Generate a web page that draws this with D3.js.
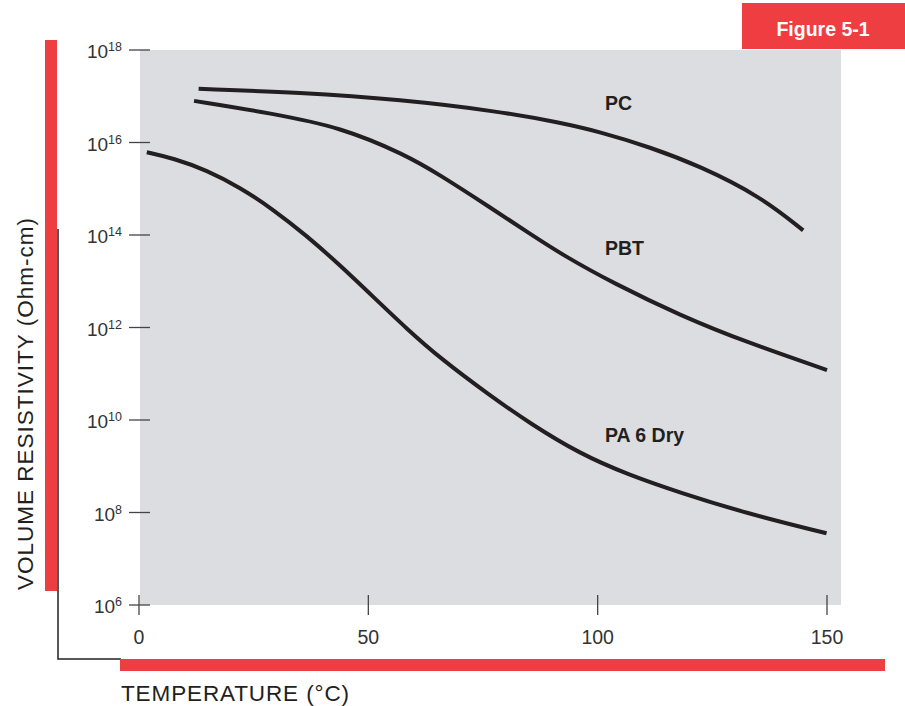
<!DOCTYPE html>
<html><head><meta charset="utf-8">
<script src="https://cdn.jsdelivr.net/npm/d3@7/dist/d3.min.js"></script>
<style>body{margin:0;background:#fff}svg{display:block;font-family:"Liberation Sans",Arial,sans-serif}</style>
</head><body><svg id="c" width="905" height="706"></svg>
<script>
// Temperature (°C) and log10 of volume resistivity (Ohm-cm)
const pcTemp  = [13, 35.1, 56.9, 78.7, 91.8, 100.5, 111.4, 122.3, 135.4, 144.8];
const pcLog   = [17.16, 17.08, 16.93, 16.67, 16.43, 16.23, 15.90, 15.49, 14.84, 14.10];
const pbtTemp = [12, 29, 44, 58, 65.6, 76.5, 85.2, 92.5, 103.4, 118, 132.5, 150];
const pbtLog  = [16.90, 16.63, 16.33, 15.74, 15.30, 14.60, 14.03, 13.56, 12.96, 12.26, 11.68, 11.08];
const paTemp  = [1.7, 7.5, 14.8, 22, 29.3, 36.6, 43.8, 51.1, 58.4, 65.6, 76.5, 85.2, 96.1, 106.6, 117.9, 132.5, 149.9];
const paLog   = [15.79, 15.66, 15.40, 15.03, 14.55, 13.98, 13.35, 12.66, 11.97, 11.34, 10.53, 9.93, 9.27, 8.82, 8.43, 7.98, 7.55];
const seriesNames = ["PC", "PBT", "PA 6 Dry"];
const xTicks = [0, 50, 100, 150];
const yTickExps = [6, 8, 10, 12, 14, 16, 18];

const svg = d3.select("#c");
const RED = "#ef3e42", INK = "#231f20";
const x = d3.scaleLinear().domain([0, 150]).range([139, 827]);
const y = d3.scaleLog().domain([1e6, 1e18]).range([605, 50]);

// Figure tag
svg.append("rect").attr("x", 742).attr("y", 3).attr("width", 163).attr("height", 46).attr("fill", RED);
svg.append("text").attr("x", 823).attr("y", 36).attr("text-anchor", "middle")
  .attr("fill", "#fff").attr("font-weight", "bold").attr("font-size", 19.5).text("Figure 5-1");

// plot background
svg.append("rect").attr("x", 140).attr("y", 50).attr("width", 701).attr("height", 555).attr("fill", "#dcdde1");

// decorative frame
svg.append("rect").attr("x", 45).attr("y", 40).attr("width", 12).attr("height", 551).attr("fill", RED);
svg.append("path").attr("d", "M58,229V659H121").attr("fill", "none").attr("stroke", INK).attr("stroke-width", 1.5);
svg.append("rect").attr("x", 120).attr("y", 659).attr("width", 765).attr("height", 12).attr("fill", RED);

// y axis ticks + labels
const yg = svg.append("g");
yTickExps.forEach(e => {
  const yy = y(Math.pow(10, e));
  yg.append("line").attr("x1", 129).attr("x2", 150).attr("y1", yy).attr("y2", yy)
    .attr("stroke", "#444").attr("stroke-width", 1.3);
  const t = yg.append("text").attr("x", 122).attr("y", yy + 8).attr("text-anchor", "end")
    .attr("fill", "#333").attr("font-size", 19);
  t.append("tspan").text("10");
  t.append("tspan").attr("font-size", 12.5).attr("dy", -7).text(e);
});

// x axis ticks + labels
xTicks.forEach(v => {
  const xx = x(v);
  svg.append("line").attr("x1", xx).attr("x2", xx).attr("y1", 595).attr("y2", 615)
    .attr("stroke", "#444").attr("stroke-width", 1.3);
  svg.append("text").attr("x", xx).attr("y", 644).attr("text-anchor", "middle")
    .attr("fill", "#333").attr("font-size", 19.5).text(v);
});

// axis titles
svg.append("text").attr("transform", "translate(33,404) rotate(-90)").attr("text-anchor", "middle")
  .attr("fill", INK).attr("font-size", 22.5).attr("textLength", 372).attr("lengthAdjust", "spacing")
  .text("VOLUME RESISTIVITY (Ohm-cm)");
svg.append("text").attr("x", 121).attr("y", 701).attr("fill", INK).attr("font-size", 22.5)
  .attr("textLength", 228).attr("lengthAdjust", "spacing").text("TEMPERATURE (°C)");

// curves
const line = d3.line().x(d => x(d[0])).y(d => y(Math.pow(10, d[1]))).curve(d3.curveBasis);
const series = [d3.zip(pcTemp, pcLog), d3.zip(pbtTemp, pbtLog), d3.zip(paTemp, paLog)];
series.forEach(s => {
  svg.append("path").attr("d", line(s)).attr("fill", "none").attr("stroke", INK).attr("stroke-width", 4);
});

// curve labels
const labelPos = [[605, 110], [605, 255], [605, 442]];
seriesNames.forEach((n, i) => {
  svg.append("text").attr("x", labelPos[i][0]).attr("y", labelPos[i][1]).attr("fill", INK)
    .attr("font-weight", "bold").attr("font-size", 19.5).text(n);
});
</script></body></html>
